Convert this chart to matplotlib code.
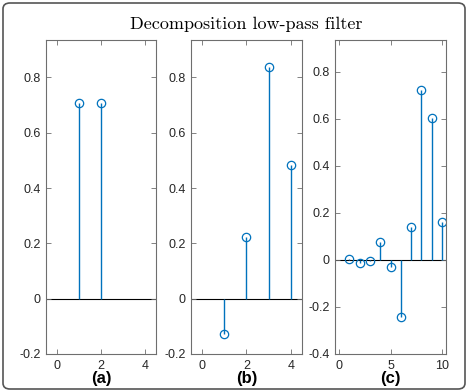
import matplotlib
matplotlib.use("Agg")
import matplotlib.pyplot as plt
from matplotlib.patches import FancyBboxPatch
import numpy as np

# Data
n_a = [1, 2]
h_a = [0.7071, 0.7071]
n_b = [1, 2, 3, 4]
h_b = [-0.1294, 0.2241, 0.8365, 0.4830]
n_c = [1, 2, 3, 4, 5, 6, 7, 8, 9, 10]
h_c = [0.0033, -0.0126, -0.0062, 0.0776, -0.0322, -0.2423, 0.1384, 0.7243, 0.6038, 0.1601]
labels = ["(a)", "(b)", "(c)"]
title = "Decomposition low-pass filter"

W, H = 468, 392
fig = plt.figure(figsize=(W/100, H/100), dpi=100)

border = FancyBboxPatch((3/W, 3/H), (W-6)/W, (H-6)/H,
                        boxstyle="round,pad=0,rounding_size=0.015",
                        transform=fig.transFigure, fill=False,
                        edgecolor="#555555", linewidth=1.2)
fig.patches.append(border)

fig.text(246/W, 1 - 24/H, title, ha="center", va="center",
         fontsize=13, family="cmr10")

color = "#0072BD"
spine_col = "#6e6e6e"

specs = [
    (46, 156, n_a, h_a, (-0.5, 4.5), (-0.2, 0.935), [0, 2, 4], [-0.2, 0, 0.2, 0.4, 0.6, 0.8]),
    (191, 302, n_b, h_b, (-0.5, 4.5), (-0.2, 0.935), [0, 2, 4], [-0.2, 0, 0.2, 0.4, 0.6, 0.8]),
    (335, 446, n_c, h_c, (-0.4, 10.4), (-0.4, 0.935), [0, 5, 10], [-0.4, -0.2, 0, 0.2, 0.4, 0.6, 0.8]),
]
top, bottom = 40, 354
for (l, r, n, h, xl, yl, xt, yt), lab in zip(specs, labels):
    ax = fig.add_axes([l/W, 1 - bottom/H, (r-l)/W, (bottom-top)/H])
    ml, sl, bl = ax.stem(n, h, basefmt="k-")
    plt.setp(sl, color=color, linewidth=1.0)
    plt.setp(ml, markerfacecolor="none", markeredgecolor=color, markersize=6, markeredgewidth=0.9)
    bl.set_visible(False)
    ax.axhline(0, color="black", linewidth=0.8, zorder=1)
    ax.set_xlim(*xl)
    ax.set_ylim(*yl)
    ax.set_xticks(xt)
    ax.set_yticks(yt)
    ax.set_yticklabels([("%g" % v) for v in yt])
    ax.tick_params(direction="in", top=True, right=True, labelsize=9,
                   length=3.5, width=0.6, color=spine_col, labelcolor="#262626", pad=4)
    for t in ax.get_xticklabels() + ax.get_yticklabels():
        t.set_family("Liberation Sans")
    for s in ax.spines.values():
        s.set_color(spine_col)
        s.set_linewidth(0.8)
    ax.text(0.5, -24/(bottom-top), lab, transform=ax.transAxes, ha="center", va="center",
            fontsize=12, fontweight="bold", family="Liberation Sans")

fig.savefig("out.png", dpi=100)
